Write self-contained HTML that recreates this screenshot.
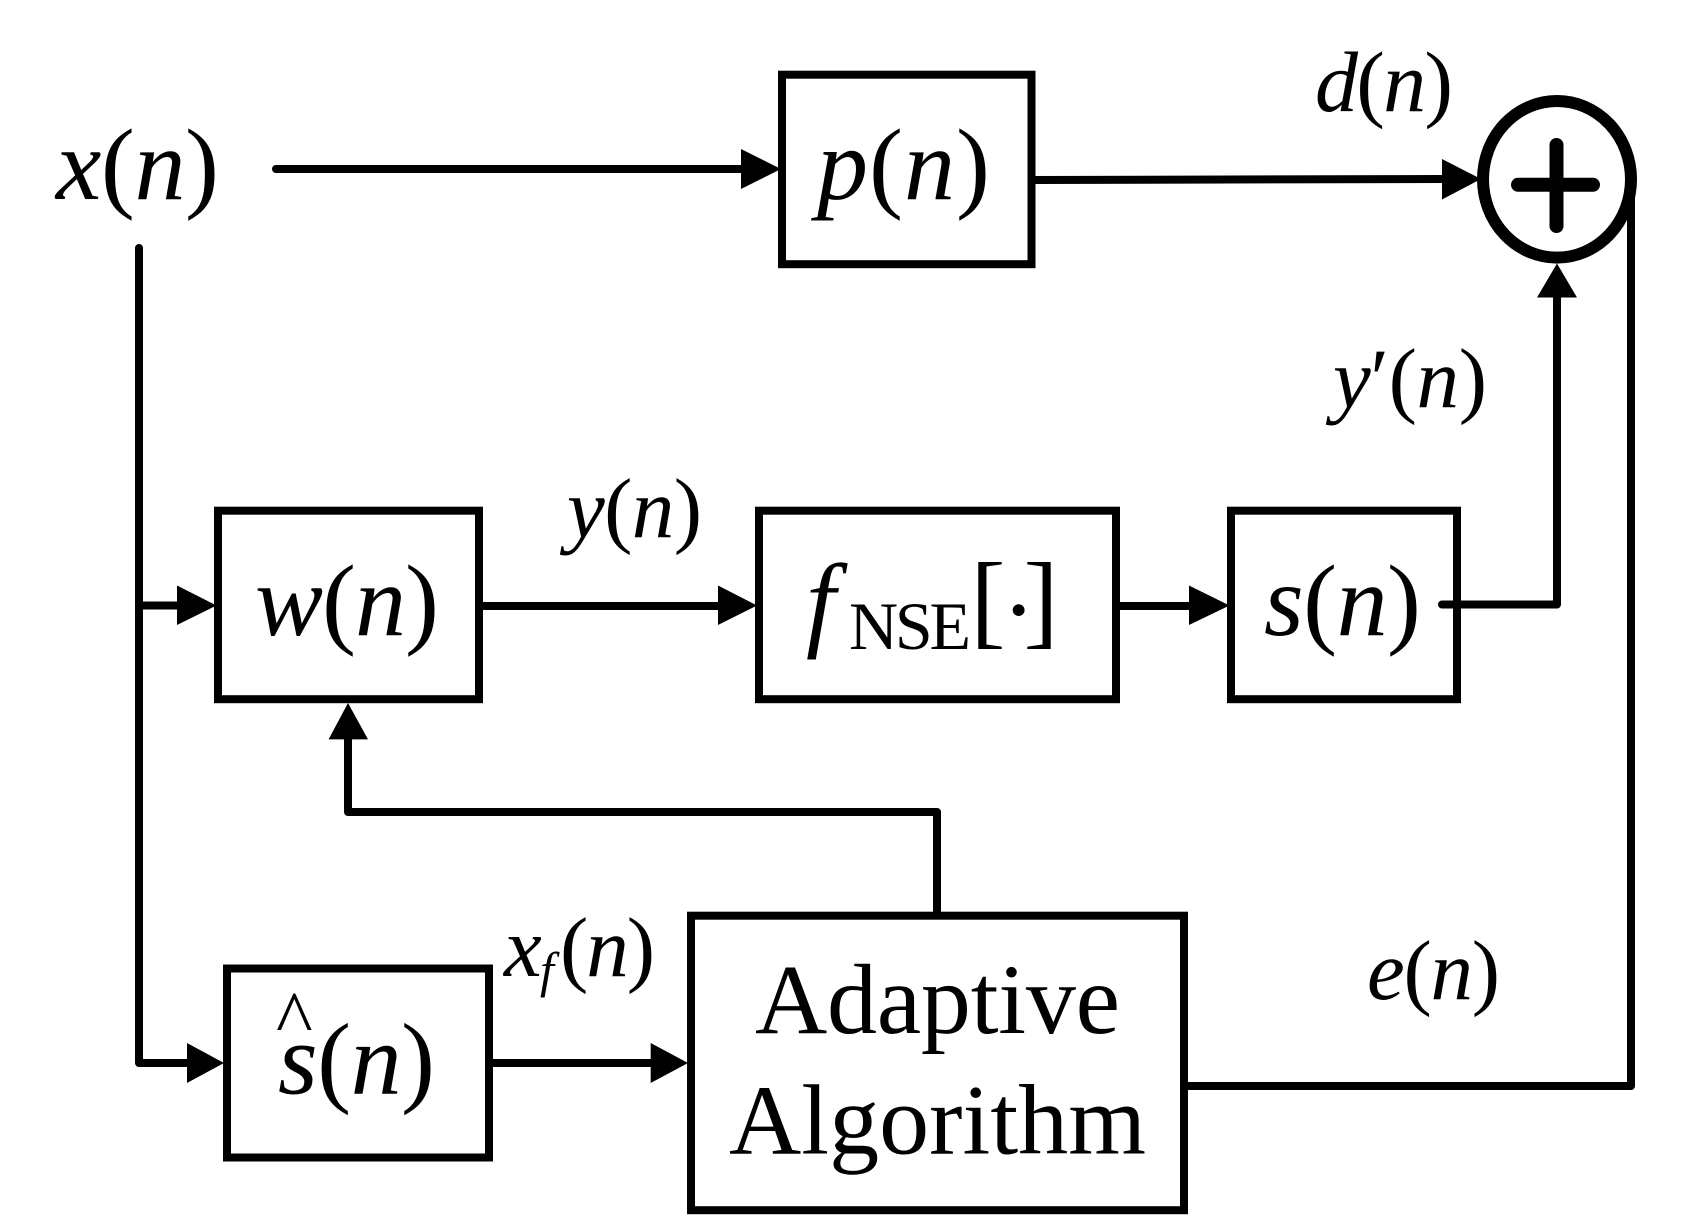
<!DOCTYPE html>
<html>
<head>
<meta charset="utf-8">
<style>
html,body{margin:0;padding:0;background:#fff;width:1706px;height:1225px;overflow:hidden}
svg{display:block}
text{font-family:"Liberation Serif",serif;fill:#000}
.i{font-style:italic}
.r{font-style:normal}
</style>
</head>
<body>
<svg width="1706" height="1225" viewBox="0 0 1706 1225" xmlns="http://www.w3.org/2000/svg">
<rect width="1706" height="1225" fill="#fff"/>
<!-- boxes -->
<g fill="none" stroke="#000" stroke-width="8">
<rect x="782" y="74.7" width="249.5" height="189.5"/>
<rect x="218" y="510.7" width="261" height="188.5"/>
<rect x="759" y="510.7" width="357" height="188.5"/>
<rect x="1231" y="510.7" width="226" height="188.5"/>
<rect x="227" y="968.5" width="262" height="189"/>
<rect x="691" y="915.7" width="493" height="294.5"/>
</g>
<!-- connectors -->
<g fill="none" stroke="#000" stroke-width="8" stroke-linecap="round" stroke-linejoin="round">
<path d="M276 169H745"/>
<path d="M139 248V1063H190"/>
<path d="M139 605.5H180"/>
<path d="M483 606H722"/>
<path d="M1035 180L1445 179"/>
<path d="M1120 606H1192"/>
<path d="M1442 604.5H1557V295"/>
<path d="M1631 197V1086H1188"/>
<path d="M348 735V812H937V912"/>
<path d="M493 1063H654"/>
</g>
<!-- arrowheads -->
<g fill="#000">
<polygon points="741,149 781,169 741,189"/>
<polygon points="1442,159 1481,179 1442,199.5"/>
<polygon points="177,585.5 216.5,605.5 177,625"/>
<polygon points="718,585.5 757,605.5 718,625"/>
<polygon points="1189,585.5 1229.5,605.5 1189,625"/>
<polygon points="187,1043 224,1063 187,1083"/>
<polygon points="650.7,1043 688,1063 650.7,1083"/>
<polygon points="1557,263.5 1577,297.5 1537,297.5"/>
<polygon points="348,703 368,739.4 328.6,739.4"/>
</g>
<!-- summing junction -->
<ellipse cx="1557" cy="179.3" rx="74" ry="78.3" fill="none" stroke="#000" stroke-width="12"/>
<path d="M1518 184.8H1593" stroke="#000" stroke-width="14" stroke-linecap="round"/>
<path d="M1556.5 145V226" stroke="#000" stroke-width="14" stroke-linecap="round"/>
<!-- labels -->
<text x="56" y="199" font-size="102" textLength="163"><tspan class="i">x</tspan><tspan class="r">(</tspan><tspan class="i">n</tspan><tspan class="r">)</tspan></text>
<text x="817" y="199" font-size="102" textLength="173"><tspan class="i">p</tspan><tspan class="r">(</tspan><tspan class="i">n</tspan><tspan class="r">)</tspan></text>
<text x="1315" y="111" font-size="86" textLength="138"><tspan class="i">d</tspan><tspan class="r">(</tspan><tspan class="i">n</tspan><tspan class="r">)</tspan></text>
<text x="1333" y="407" font-size="85" textLength="154"><tspan class="i">y</tspan><tspan class="r">′(</tspan><tspan class="i">n</tspan><tspan class="r">)</tspan></text>
<text x="567" y="537" font-size="85" textLength="135"><tspan class="i">y</tspan><tspan class="r">(</tspan><tspan class="i">n</tspan><tspan class="r">)</tspan></text>
<text x="255" y="635" font-size="102" textLength="184"><tspan class="i">w</tspan><tspan class="r">(</tspan><tspan class="i">n</tspan><tspan class="r">)</tspan></text>
<text x="806" y="637" font-size="106" class="i">f</text>
<text x="849" y="649" font-size="68" textLength="122">NSE</text>
<text x="970.5" y="635" font-size="105">[</text>
<text x="1002" y="643" font-size="100">·</text>
<text x="1023.5" y="635" font-size="105">]</text>
<text x="1264" y="635" font-size="102" textLength="157"><tspan class="i">s</tspan><tspan class="r">(</tspan><tspan class="i">n</tspan><tspan class="r">)</tspan></text>
<text x="278" y="1093.5" font-size="102" textLength="157"><tspan class="i">s</tspan><tspan class="r">(</tspan><tspan class="i">n</tspan><tspan class="r">)</tspan></text>
<text x="276" y="1045" font-size="78">^</text>
<text x="504" y="976" font-size="85" class="i">x</text>
<text x="540" y="987" font-size="50" class="i">f</text>
<text x="560" y="976" font-size="85" textLength="95"><tspan class="r">(</tspan><tspan class="i">n</tspan><tspan class="r">)</tspan></text>
<text x="1367" y="999" font-size="85" textLength="133"><tspan class="i">e</tspan><tspan class="r">(</tspan><tspan class="i">n</tspan><tspan class="r">)</tspan></text>
<text x="755" y="1033" font-size="100" textLength="365">Adaptive</text>
<text x="729" y="1153.5" font-size="100" textLength="417">Algorithm</text>
</svg>
</body>
</html>
